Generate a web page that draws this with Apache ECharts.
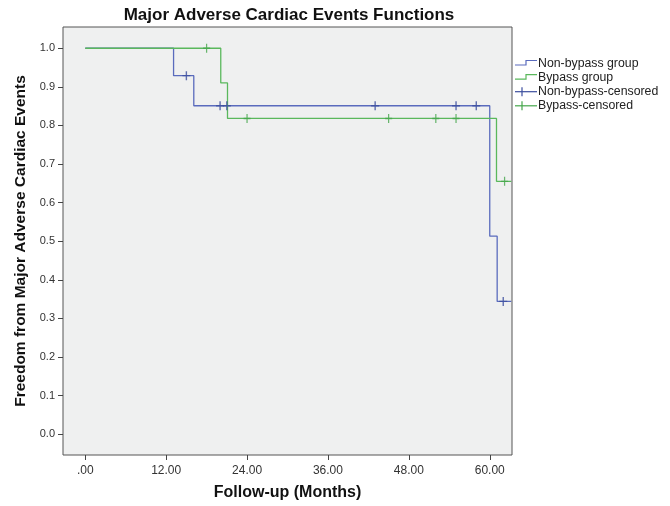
<!DOCTYPE html>
<html>
<head>
<meta charset="utf-8">
<script src="https://cdn.jsdelivr.net/npm/echarts@6/dist/echarts.min.js"></script>
<style>html,body{margin:0;padding:0;background:#fff}#c{width:670px;height:506px}</style>
</head>
<body>
<div id="c"></div>
<script>
// ---- data ----
const seriesNames = ['Non-bypass group', 'Bypass group', 'Non-bypass-censored', 'Bypass-censored'];
const nonBypassCurve = [[0, 1.0], [13.1, 0.929], [16.1, 0.851], [60.0, 0.513], [61.1, 0.344], [63.2, 0.344]];
const bypassCurve = [[0, 1.0], [20.1, 0.910], [21.1, 0.818], [61.0, 0.655], [63.2, 0.655]];
const nonBypassCensored = [[15.0, 0.929], [20.0, 0.851], [21.0, 0.851], [43.0, 0.851], [55.0, 0.851], [58.0, 0.851], [62.0, 0.344]];
const bypassCensored = [[18.0, 1.0], [24.0, 0.818], [45.0, 0.818], [52.0, 0.818], [55.0, 0.818], [62.2, 0.655]];
const xTicks = [0, 12, 24, 36, 48, 60];
const yTicks = [0, 0.1, 0.2, 0.3, 0.4, 0.5, 0.6, 0.7, 0.8, 0.9, 1.0];
const titleText = 'Major Adverse Cardiac Events Functions';
const xName = 'Follow-up (Months)';
const yName = 'Freedom from Major Adverse Cardiac Events';

// ---- style ----
const BLUE = '#5a6bbd', BLUE_D = '#3b4d9e', GREEN = '#5ab85c', GREEN_D = '#45a64b';
const FONT = '"Liberation Sans", Arial, sans-serif';
const plusPath = 'path://M3.3,0h1.4v9h-1.4z M0,3.8h8v1.4h-8z';

const chart = echarts.init(document.getElementById('c'), null, {renderer: 'canvas'});

function legendItems() {
  const els = [];
  const ys = [63.5, 77.6, 91.7, 105.8];
  const cols = [BLUE, GREEN, BLUE_D, GREEN_D];
  ys.forEach((y, i) => {
    if (i < 2) {
      els.push({type: 'polyline', shape: {points: [[515, y + 1.5], [526, y + 1.5], [526, y - 3], [537, y - 3]]},
        style: {stroke: cols[i], lineWidth: 1.2, fill: null}});
    } else {
      els.push({type: 'line', shape: {x1: 515, y1: y, x2: 537, y2: y}, style: {stroke: cols[i], lineWidth: 1.2}});
      els.push({type: 'line', shape: {x1: 522, y1: y - 4.5, x2: 522, y2: y + 4.5}, style: {stroke: cols[i], lineWidth: 1.2}});
    }
    els.push({type: 'text', x: 538, y: y, style: {text: seriesNames[i], font: '12.3px ' + FONT, fill: '#222', align: 'left', verticalAlign: 'middle'}});
  });
  return els;
}

const option = {
  backgroundColor: '#ffffff',
  animation: false,
  grid: {left: 63, right: 158, top: 27, bottom: 51, show: true, backgroundColor: '#eff0f0', borderColor: '#555', borderWidth: 1},
  xAxis: {
    type: 'value', min: -3.3, max: 63.3,
    axisLine: {show: false, onZero: false},
    splitLine: {show: false},
    axisTick: {show: true, length: 5, lineStyle: {color: '#444'}, customValues: xTicks},
    axisLabel: {customValues: xTicks, margin: 10, fontSize: 12, fontFamily: FONT, color: '#333',
      formatter: v => v === 0 ? '.00' : v.toFixed(2)},
    name: xName, nameLocation: 'middle', nameGap: 30,
    nameTextStyle: {fontSize: 16, fontWeight: 'bold', fontFamily: FONT, color: '#111'}
  },
  yAxis: {
    type: 'value', min: -0.054, max: 1.055,
    axisLine: {show: false, onZero: false},
    splitLine: {show: false},
    axisTick: {show: true, length: 5, lineStyle: {color: '#444'}, customValues: yTicks},
    axisLabel: {customValues: yTicks, margin: 8, fontSize: 11, fontFamily: FONT, color: '#333',
      formatter: v => v.toFixed(1)},
    name: yName, nameLocation: 'middle', nameGap: 34, nameRotate: 90,
    nameTextStyle: {fontSize: 15.5, fontWeight: 'bold', fontFamily: FONT, color: '#111'}
  },
  graphic: [
    {type: 'text', x: 289, y: 15, style: {text: titleText, font: 'bold 17px ' + FONT, fill: '#111', align: 'center', verticalAlign: 'middle'}}
  ].concat(legendItems()),
  series: [
    {name: seriesNames[0], type: 'line', step: 'end', data: nonBypassCurve, showSymbol: false, symbol: 'none',
      lineStyle: {color: BLUE, width: 1.3}, z: 2},
    {name: seriesNames[1], type: 'line', step: 'end', data: bypassCurve, showSymbol: false, symbol: 'none',
      lineStyle: {color: GREEN, width: 1.3}, z: 3},
    {name: seriesNames[2], type: 'scatter', data: nonBypassCensored, symbol: plusPath, symbolSize: [8, 9],
      itemStyle: {color: BLUE_D}, z: 4},
    {name: seriesNames[3], type: 'scatter', data: bypassCensored, symbol: plusPath, symbolSize: [7, 9],
      itemStyle: {color: GREEN_D}, z: 4}
  ]
};
chart.setOption(option);
</script>
</body>
</html>
